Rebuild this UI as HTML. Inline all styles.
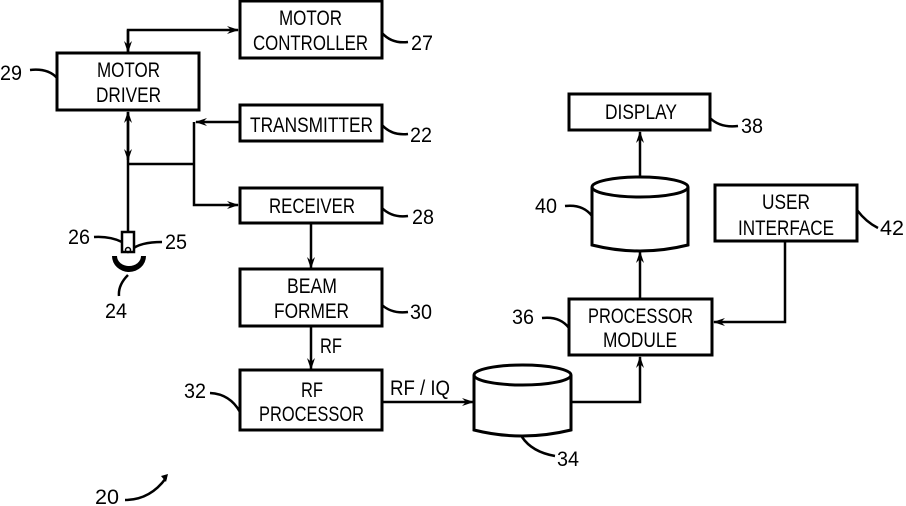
<!DOCTYPE html>
<html><head><style>body{margin:0;background:#fff}svg{display:block}text{font-family:"Liberation Sans",sans-serif;font-size:21px;fill:#000}</style></head>
<body>
<svg width="906" height="506" viewBox="0 0 906 506" xmlns="http://www.w3.org/2000/svg">
<defs><marker id="a" markerWidth="12" markerHeight="8" refX="11" refY="4" orient="auto" markerUnits="userSpaceOnUse"><path d="M0,0 L12,4 L0,8 L4,4 Z" fill="#000"/></marker></defs>
<g fill="none" stroke="#000" stroke-width="3">
<rect x="240" y="1" width="142" height="57"/>
<rect x="57" y="53" width="142" height="57"/>
<rect x="240" y="105" width="142" height="36"/>
<rect x="240" y="188" width="142" height="35"/>
<rect x="240" y="269" width="142" height="57"/>
<rect x="240" y="370" width="142" height="60"/>
<rect x="569" y="94" width="141" height="36"/>
<rect x="715" y="185" width="142" height="56"/>
<rect x="569" y="299" width="143" height="56"/>
<path d="M474,375 A48.5,10 0 0 1 571,375 L571,430 Q522,442 474,430 Z"/>
<path d="M474,375 A48.5,10 0 0 0 571,375"/>
<path d="M592,187 A48,10 0 0 1 688,187 L688,245 Q640,257 592,245 Z"/>
<path d="M592,187 A48,10 0 0 0 688,187"/>
</g>
<g fill="none" stroke="#000" stroke-width="2.5">
<path d="M128,52 L128,30 L238,30" marker-end="url(#a)"/>
<path d="M128,30 L128,52" marker-end="url(#a)"/>
<path d="M128,160 L128,112" marker-end="url(#a)"/>
<path d="M128,112 L128,160" marker-end="url(#a)"/>
<path d="M128,160 L128,232"/>
<path d="M128,164 L194,164"/>
<path d="M240,122 L196,122" marker-end="url(#a)"/>
<path d="M194,122 L194,205 L238,205" marker-end="url(#a)"/>
<path d="M311,223 L311,268" marker-end="url(#a)"/>
<path d="M311,326 L311,369" marker-end="url(#a)"/>
<path d="M382,402 L473,402" marker-end="url(#a)"/>
<path d="M571,402 L640,402 L640,357" marker-end="url(#a)"/>
<path d="M640,299 L640,252" marker-end="url(#a)"/>
<path d="M640,177 L640,132" marker-end="url(#a)"/>
<path d="M785,241 L785,322 L714,322" marker-end="url(#a)"/>
<path d="M382,33 Q392,44 408,42"/>
<path d="M57,78 Q48,68 30,70"/>
<path d="M382,125 Q392,136 408,134"/>
<path d="M382,208 Q392,218 408,216"/>
<path d="M382,305 Q392,314 408,312"/>
<path d="M569,328 Q560,316 542,318"/>
<path d="M592,216 Q583,204 565,206"/>
<path d="M710,118 Q720,128 738,126"/>
<path d="M857,210 Q866,222 878,228"/>
<path d="M240,412 Q230,394 210,393"/>
<path d="M522,437 Q532,452 555,456"/>
<path d="M122,242 Q110,236 94,237"/>
<path d="M131,250 Q140,242 162,242"/>
<path d="M128,275 Q118,285 119,296"/>
<path d="M125,500 Q150,500 166,478"/>
</g>
<path d="M161,476 L168,474 L166,482 Z" fill="#000"/>
<rect x="122" y="232" width="12" height="20" fill="#fff" stroke="#000" stroke-width="2.5"/>
<circle cx="128" cy="250" r="2.5" fill="none" stroke="#000" stroke-width="1.5"/>
<path d="M112,256 L146,256 A17,16 0 0 1 112,256 Z" fill="#000"/>
<path d="M117,256 L141,256 A12,10 0 0 1 117,256 Z" fill="#fff"/>
<g>
<text x="279" y="25" textLength="63" lengthAdjust="spacingAndGlyphs">MOTOR</text>
<text x="253" y="50" textLength="115" lengthAdjust="spacingAndGlyphs">CONTROLLER</text>
<text x="97" y="77" textLength="63" lengthAdjust="spacingAndGlyphs">MOTOR</text>
<text x="96" y="102" textLength="65" lengthAdjust="spacingAndGlyphs">DRIVER</text>
<text x="250" y="132" textLength="123" lengthAdjust="spacingAndGlyphs">TRANSMITTER</text>
<text x="269" y="213" textLength="86" lengthAdjust="spacingAndGlyphs">RECEIVER</text>
<text x="287" y="293" textLength="50" lengthAdjust="spacingAndGlyphs">BEAM</text>
<text x="274" y="318" textLength="75" lengthAdjust="spacingAndGlyphs">FORMER</text>
<text x="301" y="397" textLength="22" lengthAdjust="spacingAndGlyphs">RF</text>
<text x="259" y="421" textLength="105" lengthAdjust="spacingAndGlyphs">PROCESSOR</text>
<text x="320" y="353" textLength="22" lengthAdjust="spacingAndGlyphs">RF</text>
<text x="390" y="395" textLength="60" lengthAdjust="spacingAndGlyphs">RF / IQ</text>
<text x="605" y="119" textLength="72" lengthAdjust="spacingAndGlyphs">DISPLAY</text>
<text x="762" y="209" textLength="48" lengthAdjust="spacingAndGlyphs">USER</text>
<text x="738" y="235" textLength="96" lengthAdjust="spacingAndGlyphs">INTERFACE</text>
<text x="588" y="323" textLength="105" lengthAdjust="spacingAndGlyphs">PROCESSOR</text>
<text x="603" y="347" textLength="74" lengthAdjust="spacingAndGlyphs">MODULE</text>
<text x="411" y="50" textLength="22" lengthAdjust="spacingAndGlyphs">27</text>
<text x="0" y="80" textLength="22" lengthAdjust="spacingAndGlyphs">29</text>
<text x="410" y="142" textLength="22" lengthAdjust="spacingAndGlyphs">22</text>
<text x="412" y="224" textLength="22" lengthAdjust="spacingAndGlyphs">28</text>
<text x="410" y="319" textLength="22" lengthAdjust="spacingAndGlyphs">30</text>
<text x="68" y="244" textLength="22" lengthAdjust="spacingAndGlyphs">26</text>
<text x="165" y="249" textLength="22" lengthAdjust="spacingAndGlyphs">25</text>
<text x="105" y="318" textLength="22" lengthAdjust="spacingAndGlyphs">24</text>
<text x="741" y="133" textLength="22" lengthAdjust="spacingAndGlyphs">38</text>
<text x="535" y="213" textLength="22" lengthAdjust="spacingAndGlyphs">40</text>
<text x="880" y="235" textLength="24" lengthAdjust="spacingAndGlyphs">42</text>
<text x="512" y="324" textLength="22" lengthAdjust="spacingAndGlyphs">36</text>
<text x="184" y="398" textLength="22" lengthAdjust="spacingAndGlyphs">32</text>
<text x="557" y="466" textLength="22" lengthAdjust="spacingAndGlyphs">34</text>
<text x="95" y="504" textLength="24" lengthAdjust="spacingAndGlyphs">20</text>
</g>
</svg>
</body></html>
